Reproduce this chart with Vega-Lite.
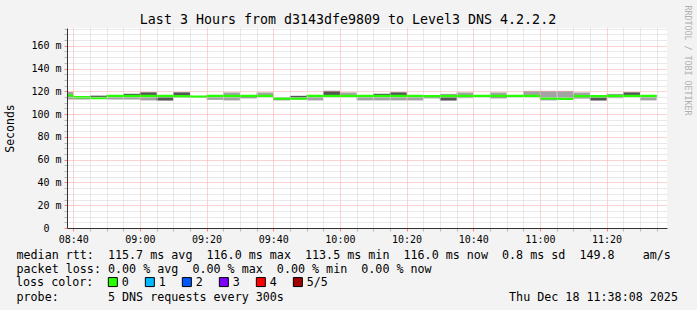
{
  "$schema": "https://vega.github.io/schema/vega-lite/v6.json",
  "width": 600,
  "height": 200,
  "autosize": {"type": "none"},
  "padding": {"left": 67, "top": 28, "right": 30, "bottom": 82},
  "background": "#f3f3f3",
  "config": {"font": "DejaVu Sans Mono", "view": {"stroke": null, "fill": "#ffffff"}},
  "title": {"text": "Last 3 Hours from d3143dfe9809 to Level3 DNS 4.2.2.2", "font": "DejaVu Sans Mono", "fontSize": 13.3, "fontWeight": "normal", "color": "#000000", "anchor": "middle", "frame": "group", "dx": -19, "baseline": "alphabetic", "offset": -32},
  "data": {"values": [
    {"t": "2025-12-18T08:38:08Z", "t2": "2025-12-18T08:40:00Z", "p1": 112.8, "p2": 115.8, "med": 116.3, "p4": 116.8, "p5": 119.5, "loss": "0"},
    {"t": "2025-12-18T08:40:00Z", "t2": "2025-12-18T08:45:00Z", "p1": 112.8, "p2": 114.2, "med": 114.7, "p4": 115.4, "p5": 115.6, "loss": "0"},
    {"t": "2025-12-18T08:45:00Z", "t2": "2025-12-18T08:50:00Z", "p1": 113.6, "p2": 113.8, "med": 114.2, "p4": 116.2, "p5": 116.2, "loss": "0"},
    {"t": "2025-12-18T08:50:00Z", "t2": "2025-12-18T08:55:00Z", "p1": 112.8, "p2": 115.5, "med": 116.0, "p4": 116.5, "p5": 116.6, "loss": "0"},
    {"t": "2025-12-18T08:55:00Z", "t2": "2025-12-18T09:00:00Z", "p1": 112.8, "p2": 115.5, "med": 116.0, "p4": 117.8, "p5": 117.8, "loss": "0"},
    {"t": "2025-12-18T09:00:00Z", "t2": "2025-12-18T09:05:00Z", "p1": 112.0, "p2": 115.5, "med": 116.0, "p4": 119.0, "p5": 119.0, "loss": "0"},
    {"t": "2025-12-18T09:05:00Z", "t2": "2025-12-18T09:10:00Z", "p1": 112.0, "p2": 112.0, "med": 115.8, "p4": 116.3, "p5": 116.4, "loss": "0"},
    {"t": "2025-12-18T09:10:00Z", "t2": "2025-12-18T09:15:00Z", "p1": 114.6, "p2": 115.2, "med": 115.6, "p4": 119.0, "p5": 119.0, "loss": "0"},
    {"t": "2025-12-18T09:15:00Z", "t2": "2025-12-18T09:20:00Z", "p1": 114.7, "p2": 114.7, "med": 115.2, "p4": 115.6, "p5": 115.6, "loss": "0"},
    {"t": "2025-12-18T09:20:00Z", "t2": "2025-12-18T09:25:00Z", "p1": 112.5, "p2": 115.5, "med": 116.0, "p4": 116.5, "p5": 116.6, "loss": "0"},
    {"t": "2025-12-18T09:25:00Z", "t2": "2025-12-18T09:30:00Z", "p1": 112.0, "p2": 115.5, "med": 116.0, "p4": 116.5, "p5": 119.0, "loss": "0"},
    {"t": "2025-12-18T09:30:00Z", "t2": "2025-12-18T09:35:00Z", "p1": 114.0, "p2": 114.0, "med": 116.0, "p4": 116.5, "p5": 116.6, "loss": "0"},
    {"t": "2025-12-18T09:35:00Z", "t2": "2025-12-18T09:40:00Z", "p1": 115.4, "p2": 115.5, "med": 116.0, "p4": 116.5, "p5": 119.0, "loss": "0"},
    {"t": "2025-12-18T09:40:00Z", "t2": "2025-12-18T09:45:00Z", "p1": 112.0, "p2": 113.0, "med": 113.6, "p4": 114.2, "p5": 114.5, "loss": "0"},
    {"t": "2025-12-18T09:45:00Z", "t2": "2025-12-18T09:50:00Z", "p1": 113.0, "p2": 113.2, "med": 113.7, "p4": 116.0, "p5": 116.0, "loss": "0"},
    {"t": "2025-12-18T09:50:00Z", "t2": "2025-12-18T09:55:00Z", "p1": 112.0, "p2": 115.5, "med": 116.0, "p4": 116.5, "p5": 116.6, "loss": "0"},
    {"t": "2025-12-18T09:55:00Z", "t2": "2025-12-18T10:00:00Z", "p1": 115.4, "p2": 115.5, "med": 116.0, "p4": 120.4, "p5": 120.4, "loss": "0"},
    {"t": "2025-12-18T10:00:00Z", "t2": "2025-12-18T10:05:00Z", "p1": 115.4, "p2": 115.5, "med": 116.0, "p4": 116.5, "p5": 119.0, "loss": "0"},
    {"t": "2025-12-18T10:05:00Z", "t2": "2025-12-18T10:10:00Z", "p1": 112.0, "p2": 115.4, "med": 115.8, "p4": 116.3, "p5": 116.6, "loss": "0"},
    {"t": "2025-12-18T10:10:00Z", "t2": "2025-12-18T10:15:00Z", "p1": 112.0, "p2": 115.5, "med": 116.0, "p4": 117.8, "p5": 117.8, "loss": "0"},
    {"t": "2025-12-18T10:15:00Z", "t2": "2025-12-18T10:20:00Z", "p1": 112.0, "p2": 115.5, "med": 116.0, "p4": 119.0, "p5": 119.0, "loss": "0"},
    {"t": "2025-12-18T10:20:00Z", "t2": "2025-12-18T10:25:00Z", "p1": 112.0, "p2": 115.5, "med": 116.0, "p4": 116.5, "p5": 116.6, "loss": "0"},
    {"t": "2025-12-18T10:25:00Z", "t2": "2025-12-18T10:30:00Z", "p1": 114.0, "p2": 114.0, "med": 115.6, "p4": 116.2, "p5": 116.3, "loss": "0"},
    {"t": "2025-12-18T10:30:00Z", "t2": "2025-12-18T10:35:00Z", "p1": 112.0, "p2": 112.0, "med": 115.8, "p4": 116.3, "p5": 117.8, "loss": "0"},
    {"t": "2025-12-18T10:35:00Z", "t2": "2025-12-18T10:40:00Z", "p1": 114.0, "p2": 115.3, "med": 115.8, "p4": 116.3, "p5": 119.0, "loss": "0"},
    {"t": "2025-12-18T10:40:00Z", "t2": "2025-12-18T10:45:00Z", "p1": 115.3, "p2": 115.3, "med": 115.8, "p4": 116.3, "p5": 116.3, "loss": "0"},
    {"t": "2025-12-18T10:45:00Z", "t2": "2025-12-18T10:50:00Z", "p1": 114.0, "p2": 114.0, "med": 115.8, "p4": 116.3, "p5": 119.0, "loss": "0"},
    {"t": "2025-12-18T10:50:00Z", "t2": "2025-12-18T10:55:00Z", "p1": 115.5, "p2": 115.5, "med": 116.0, "p4": 116.5, "p5": 116.5, "loss": "0"},
    {"t": "2025-12-18T10:55:00Z", "t2": "2025-12-18T11:00:00Z", "p1": 115.3, "p2": 115.3, "med": 115.8, "p4": 116.3, "p5": 120.4, "loss": "0"},
    {"t": "2025-12-18T11:00:00Z", "t2": "2025-12-18T11:05:00Z", "p1": 112.0, "p2": 113.5, "med": 114.0, "p4": 114.5, "p5": 120.4, "loss": "0"},
    {"t": "2025-12-18T11:05:00Z", "t2": "2025-12-18T11:10:00Z", "p1": 113.0, "p2": 113.0, "med": 113.5, "p4": 114.0, "p5": 120.4, "loss": "0"},
    {"t": "2025-12-18T11:10:00Z", "t2": "2025-12-18T11:15:00Z", "p1": 114.0, "p2": 114.0, "med": 115.6, "p4": 116.1, "p5": 119.0, "loss": "0"},
    {"t": "2025-12-18T11:15:00Z", "t2": "2025-12-18T11:20:00Z", "p1": 112.0, "p2": 112.0, "med": 115.6, "p4": 116.1, "p5": 116.2, "loss": "0"},
    {"t": "2025-12-18T11:20:00Z", "t2": "2025-12-18T11:25:00Z", "p1": 114.0, "p2": 115.3, "med": 115.8, "p4": 116.3, "p5": 117.8, "loss": "0"},
    {"t": "2025-12-18T11:25:00Z", "t2": "2025-12-18T11:30:00Z", "p1": 115.3, "p2": 115.3, "med": 115.8, "p4": 119.0, "p5": 119.0, "loss": "0"},
    {"t": "2025-12-18T11:30:00Z", "t2": "2025-12-18T11:35:00Z", "p1": 112.0, "p2": 115.5, "med": 116.0, "p4": 116.5, "p5": 116.6, "loss": "0"}
  ]},
  "resolve": {"axis": {"x": "independent", "y": "independent"}},
  "layer": [
    {
      "mark": {"type": "rect", "color": "#a3a3a3"},
      "encoding": {
        "x": {"field": "t", "type": "temporal",
          "scale": {"type": "utc", "domain": [1766047088000, 1766057888000]},
          "axis": {
            "orient": "bottom",
            "values": [1766047200000, 1766047500000, 1766047800000, 1766048100000, 1766048400000, 1766048700000, 1766049000000, 1766049300000, 1766049600000, 1766049900000, 1766050200000, 1766050500000, 1766050800000, 1766051100000, 1766051400000, 1766051700000, 1766052000000, 1766052300000, 1766052600000, 1766052900000, 1766053200000, 1766053500000, 1766053800000, 1766054100000, 1766054400000, 1766054700000, 1766055000000, 1766055300000, 1766055600000, 1766055900000, 1766056200000, 1766056500000, 1766056800000, 1766057100000, 1766057400000, 1766057700000],
            "format": "%H:%M",
            "labelExpr": "(datum.value / 60000) % 20 == 0 ? datum.label : ''",
            "labelFont": "DejaVu Sans Mono", "labelFontSize": 10, "labelColor": "#000000", "labelPadding": 3, "labelOverlap": false, "labelFlush": false,
            "tickSize": 3,
            "tickColor": {"condition": {"test": "(datum.value / 60000) % 20 == 0", "value": "#ff8080"}, "value": "#b8b8b8"},
            "grid": true,
            "gridColor": {"condition": {"test": "(datum.value / 60000) % 20 == 0", "value": "#ffa4a4"}, "value": "#d2d2d2"},
            "gridDash": [1, 1], "gridWidth": 1,
            "domainColor": "#333333", "domainWidth": 1,
            "title": "median rtt:\u00a0\u00a0115.7 ms avg\u00a0\u00a0116.0 ms max\u00a0\u00a0113.5 ms min\u00a0\u00a0116.0 ms now\u00a0\u00a00.8 ms sd\u00a0\u00a0149.8\u00a0\u00a0\u00a0\u00a0am/s",
            "titleX": -51, "titleY": 30, "titleAlign": "left", "titleBaseline": "alphabetic",
            "titleFont": "DejaVu Sans Mono", "titleFontSize": 11.7, "titleFontWeight": "normal", "titleColor": "#000000",
            "zindex": 1
          }
        },
        "x2": {"field": "t2"},
        "y": {"field": "p1", "type": "quantitative",
          "scale": {"domain": [0, 175.6], "nice": false, "zero": true},
          "axis": {
            "orient": "left",
            "values": [0, 5, 10, 15, 20, 25, 30, 35, 40, 45, 50, 55, 60, 65, 70, 75, 80, 85, 90, 95, 100, 105, 110, 115, 120, 125, 130, 135, 140, 145, 150, 155, 160, 165, 170, 175],
            "labelExpr": "datum.value % 20 == 0 ? (datum.value == 0 ? '0' : datum.value + ' m') : ''",
            "labelFont": "DejaVu Sans Mono", "labelFontSize": 10, "labelColor": "#000000", "labelOverlap": false, "labelFlush": false,
            "labelPadding": {"condition": {"test": "datum.value == 0", "value": 15}, "value": 3},
            "tickSize": 3,
            "tickColor": {"condition": {"test": "datum.value % 20 == 0", "value": "#ff8080"}, "value": "#b8b8b8"},
            "grid": true,
            "gridColor": {"condition": {"test": "datum.value % 20 == 0", "value": "#ffa4a4"}, "value": "#d2d2d2"},
            "gridDash": [1, 1], "gridWidth": 1,
            "domainColor": "#333333", "domainWidth": 1,
            "title": "Seconds", "titleAngle": 270, "titleX": -57, "titleY": 100, "titleAlign": "center", "titleBaseline": "middle",
            "titleFont": "DejaVu Sans Mono", "titleFontSize": 11.5, "titleFontWeight": "normal", "titleColor": "#000000",
            "zindex": 1
          }
        },
        "y2": {"field": "p5"}
      }
    },
    {
      "mark": {"type": "rect", "color": "#555555"},
      "encoding": {
        "x": {"field": "t", "type": "temporal",
          "axis": {"orient": "bottom", "labels": false, "ticks": false, "domain": false, "grid": false,
            "title": "packet loss:\u00a00.00 % avg\u00a0\u00a00.00 % max\u00a0\u00a00.00 % min\u00a0\u00a00.00 % now",
            "titleX": -51, "titleY": 44, "titleAlign": "left", "titleBaseline": "alphabetic",
            "titleFont": "DejaVu Sans Mono", "titleFontSize": 11.7, "titleFontWeight": "normal", "titleColor": "#000000"}
        },
        "x2": {"field": "t2"},
        "y": {"field": "p2", "type": "quantitative",
          "axis": {"orient": "right", "labels": false, "ticks": false, "domain": false, "grid": false,
            "title": "RRDTOOL / TOBI OETIKER", "titleAngle": 90, "titleX": 19.5, "titleY": 32, "titleAlign": "center", "titleBaseline": "middle",
            "titleFont": "DejaVu Sans Mono", "titleFontSize": 8.3, "titleFontWeight": "normal", "titleColor": "#b0b0b0"}
        },
        "y2": {"field": "p4"}
      }
    },
    {
      "mark": {"type": "rect", "stroke": "#26ff00", "strokeWidth": 2.5},
      "encoding": {
        "x": {"field": "t", "type": "temporal",
          "axis": {"orient": "bottom", "labels": false, "ticks": false, "domain": false, "grid": false,
            "title": "probe:\u00a0\u00a0\u00a0\u00a0\u00a0\u00a0\u00a05 DNS requests every 300s\u00a0\u00a0\u00a0\u00a0\u00a0\u00a0\u00a0\u00a0\u00a0\u00a0\u00a0\u00a0\u00a0\u00a0\u00a0\u00a0\u00a0\u00a0\u00a0\u00a0\u00a0\u00a0\u00a0\u00a0\u00a0\u00a0\u00a0\u00a0\u00a0\u00a0\u00a0\u00a0Thu Dec 18 11:38:08 2025",
            "titleX": -51, "titleY": 72, "titleAlign": "left", "titleBaseline": "alphabetic",
            "titleFont": "DejaVu Sans Mono", "titleFontSize": 11.7, "titleFontWeight": "normal", "titleColor": "#000000"}
        },
        "x2": {"field": "t2"},
        "y": {"field": "med", "type": "quantitative", "axis": null},
        "y2": {"field": "med"},
        "fill": {"field": "loss", "type": "nominal",
          "scale": {"domain": ["0", "1", "2", "3", "4", "5/5"], "range": ["#26ff00", "#00b8ff", "#0059ff", "#7e00ff", "#ff0000", "#a00000"]},
          "legend": {
            "title": "loss color:", "orient": "none", "legendX": -51, "legendY": 248, "direction": "horizontal",
            "titleOrient": "left", "titleFont": "DejaVu Sans Mono", "titleFontSize": 11.7, "titleFontWeight": "normal", "titleColor": "#000000", "titlePadding": 13,
            "labelFont": "DejaVu Sans Mono", "labelFontSize": 11.7, "labelColor": "#000000", "labelOffset": 3, "columnPadding": 14,
            "symbolType": "square", "symbolSize": 81, "symbolStrokeColor": "#000000", "symbolStrokeWidth": 1, "symbolOpacity": 1, "padding": 0,
            "encode": {"symbols": {"update": {"stroke": {"value": "#000000"}, "strokeWidth": {"value": 1}}}}
          }
        }
      }
    }
  ]
}
